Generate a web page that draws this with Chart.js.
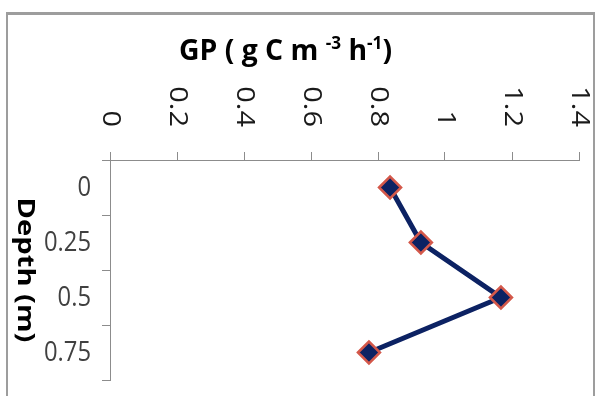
<!DOCTYPE html>
<html>
<head>
<meta charset="utf-8">
<script src="https://cdn.jsdelivr.net/npm/chart.js@4"></script>
<style>
  html, body { margin: 0; padding: 0; background: #fff; }
  #wrap { width: 595px; height: 396px; }
</style>
</head>
<body>
<div id="wrap"><canvas id="gpChart" width="595" height="396"></canvas></div>
<script>
const depths = ['0', '0.25', '0.5', '0.75'];
const gpValues = [0.836, 0.928, 1.167, 0.773];
const gpTicks = [0, 0.2, 0.4, 0.6, 0.8, 1, 1.2, 1.4];

const FONT = '"Open Sans", "Liberation Sans", sans-serif';
const SQUEEZE = 0.85; // the picture is narrower than it is tall
const AXIS = '#8c8c8c';

// text squeezed sideways, optionally rotated and stretched along its length
function putText(ctx, str, x, y, o) {
  ctx.save();
  ctx.font = o.font;
  ctx.fillStyle = o.color || '#000';
  ctx.textAlign = o.align || 'left';
  ctx.textBaseline = o.baseline || 'alphabetic';
  ctx.translate(x, y);
  ctx.scale(SQUEEZE, 1);
  if (o.rot) ctx.rotate(o.rot);
  if (o.along) ctx.scale(o.along / ctx.measureText(str).width, 1);
  ctx.fillText(str, 0, 0);
  ctx.restore();
}

const decorations = {
  id: 'decorations',
  beforeDraw(chart) {
    const { ctx, width, height } = chart;
    ctx.save();
    ctx.fillStyle = '#fff';
    ctx.fillRect(0, 0, width, height);
    ctx.strokeStyle = '#9d9d9d';
    ctx.lineWidth = 3;
    ctx.beginPath();
    ctx.moveTo(6, 13.5);
    ctx.lineTo(width, 13.5);
    ctx.stroke();
    ctx.lineWidth = 2;
    ctx.beginPath();
    ctx.moveTo(7, 12);
    ctx.lineTo(7, height);
    ctx.moveTo(594, 12);
    ctx.lineTo(594, height);
    ctx.stroke();
    ctx.restore();
  },
  afterDraw(chart) {
    const { ctx } = chart;
    const xs = chart.scales.x;
    const ys = chart.scales.y;

    // value ticks, turned a quarter clockwise
    gpTicks.forEach((v) => {
      putText(ctx, String(v), xs.getPixelForValue(v), 127, {
        font: `29px ${FONT}`, rot: Math.PI / 2, align: 'right', baseline: 'middle', color: '#1a1a1a',
      });
    });

    // depth categories
    depths.forEach((d, i) => {
      putText(ctx, d, 91, ys.getPixelForValue(i) + 1, {
        font: `28px ${FONT}`, align: 'right', baseline: 'middle', color: '#404040',
      });
    });

    // GP title with superscripts
    const parts = [
      ['GP ( g C m ', `bold 28px ${FONT}`, 0],
      ['-3', `bold 17px ${FONT}`, -11],
      [' h', `bold 28px ${FONT}`, 0],
      ['-1', `bold 17px ${FONT}`, -11],
      [')', `bold 28px ${FONT}`, 0],
    ];
    ctx.save();
    let total = 0;
    parts.forEach(([t, f]) => { ctx.font = f; total += ctx.measureText(t).width; });
    ctx.translate(179, 60);
    ctx.scale(213 / total, 1);
    ctx.fillStyle = '#000';
    ctx.textBaseline = 'alphabetic';
    let cx = 0;
    parts.forEach(([t, f, dy]) => {
      ctx.font = f;
      ctx.fillText(t, cx, dy);
      cx += ctx.measureText(t).width;
    });
    ctx.restore();

    // depth title, reading downwards
    putText(ctx, 'Depth (m)', 25, 270, {
      font: `bold 27px ${FONT}`, rot: Math.PI / 2, align: 'center', baseline: 'middle', along: 145,
    });
  },
};

new Chart(document.getElementById('gpChart'), {
  type: 'line',
  data: {
    labels: depths,
    datasets: [{
      data: gpValues,
      borderColor: '#0c2263',
      borderWidth: 5,
      tension: 0,
      pointStyle: 'rectRot',
      pointRadius: 11,
      pointBackgroundColor: '#0c2263',
      pointBorderColor: '#d4584a',
      pointBorderWidth: 2.5,
    }],
  },
  options: {
    indexAxis: 'y',
    responsive: false,
    animation: false,
    layout: { padding: { top: 0, left: 0, right: 16, bottom: 16 } },
    plugins: { legend: { display: false }, tooltip: { enabled: false } },
    scales: {
      x: {
        type: 'linear',
        position: 'top',
        min: 0,
        max: 1.4,
        ticks: { display: false, stepSize: 0.2 },
        grid: { drawOnChartArea: false, tickLength: 8, color: AXIS },
        border: { color: AXIS },
        afterFit: (s) => { s.height = 160; },
      },
      y: {
        type: 'category',
        position: 'left',
        offset: true,
        ticks: { display: false },
        grid: { offset: true, drawOnChartArea: false, tickLength: 8, color: AXIS },
        border: { color: AXIS },
        afterFit: (s) => { s.width = 110; },
      },
    },
  },
  plugins: [decorations],
});
</script>
</body>
</html>
